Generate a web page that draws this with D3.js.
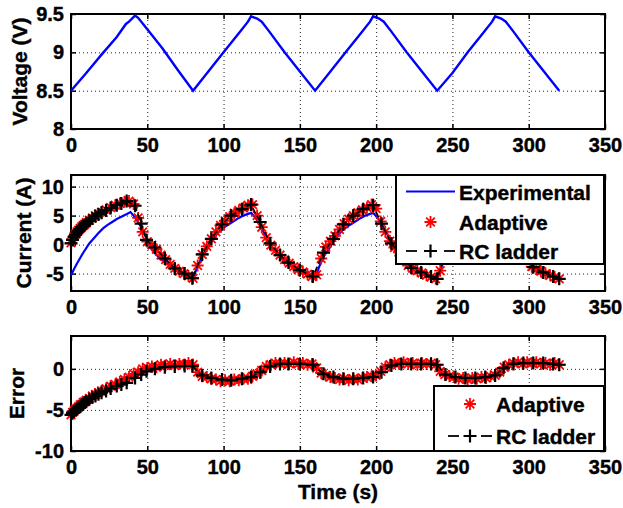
<!DOCTYPE html>
<html lang="en">
<head>
<meta charset="UTF-8">
<script src="https://d3js.org/d3.v7.min.js"></script>
<title>voltage / current / error</title>
<style>
  body { margin: 0; background: #fff; }
  text { font-family: "Liberation Sans", Arial, sans-serif; font-weight: bold; stroke: #000; stroke-width: 0.4px; }
</style>
</head>
<body>
<svg id="chart" width="623" height="508"></svg>
<script>
    // x axis (time, s)
    const xTicks = [0, 50, 100, 150, 200, 250, 300, 350];

    // top panel: applied voltage
    const volTime = [0,10,20,30,36,38,42,44,50,60,70,80,
        90,100,110,116,118,122,125,130,140,150,160,
        170,180,190,196,198,202,205,210,220,230,240,
        250,260,270,276,278,282,285,290,300,310,320];
    const volValue = [8.5,8.73,8.97,9.2,9.37,9.4,9.48,9.45,9.3,9.05,8.77,8.5,
        8.75,9.0,9.25,9.4,9.47,9.44,9.4,9.27,9.0,8.75,8.5,
        8.75,9.0,9.25,9.4,9.47,9.44,9.4,9.27,9.0,8.75,8.5,
        8.73,9.0,9.25,9.4,9.47,9.44,9.4,9.27,9.0,8.75,8.5];
    const volTicks = [8, 8.5, 9, 9.5];

    // middle panel: measured current
    const expTime = [0,2,4,6,8,10,12,15,18,21,24,27,30,33,36,39,41,43,46,49,52,55,58,61,64,67,70,73,76,79,80,
        83,86,89,92,95,98,101,104,107,110,113,116,118,121,124,127,130,133,136,139,142,145,148,151,154,157,160,
        163,166,169,172,175,178,181,184,187,190,193,196,198,201,204,207,210,213,216,219,222,225,228,231,234,237,240,
        243,246,249,252,255,258,261,264,267,270,273,276,278,281,284,287,290,293,296,299,302,305,308,311,314,317,320];
    const expCurrent = [-5.3,-4.2,-3.2,-2.3,-1.4,-0.6,0.2,1.1,2.0,2.8,3.4,3.9,4.4,4.8,5.2,5.6,5.0,4.3,3.0,1.4,-0.4,-1.5,-2.3,-2.9,-3.5,-4.0,-4.5,-4.9,-5.3,-5.7,-5.8,
        -3.7,-2.0,-0.9,0.5,1.6,2.5,3.1,3.6,4.1,4.6,5.0,5.3,5.5,4.6,3.3,1.8,0.2,-0.9,-1.8,-2.6,-3.2,-3.8,-4.3,-4.7,-5.1,-5.4,-5.8,
        -3.6,-1.9,-0.8,0.6,1.6,2.5,3.1,3.6,4.1,4.6,5.0,5.3,5.5,4.6,3.4,1.9,0.3,-0.9,-1.9,-2.7,-3.4,-4.0,-4.5,-4.9,-5.2,-5.5,-5.8,
        -3.7,-2.0,-0.9,0.5,1.6,2.5,3.1,3.6,4.1,4.6,5.0,5.3,5.5,4.6,3.3,1.8,0.2,-1.0,-1.9,-2.7,-3.5,-4.1,-4.6,-5.0,-5.3,-5.6,-5.9];
    const curTicks = [-5, 0, 5, 10];

    // adaptive model samples
    const adaptiveTime = [0,1,2,3,4,5,6,7,8,9,10,12,14,16,18,20,
        23,26,29,32,35,38,41,44,47,50,53,56,59,62,65,68,71,74,77,80,
        83,86,89,92,95,98,101,104,107,110,113,116,119,122,125,128,131,134,137,140,143,146,149,152,155,158,
        161,164,167,170,173,176,179,182,185,188,191,194,197,200,203,206,209,212,215,218,221,224,227,230,233,236,239,
        242,245,248,251,254,257,260,263,266,269,272,275,278,281,284,287,290,293,296,299,302,305,308,311,314,317,320];
    const adaptiveCurrent = [0.3,0.9,1.4,1.8,2.2,2.5,2.8,3.1,3.3,3.5,3.8,4.2,4.6,5.0,5.3,5.6,
        6.0,6.4,6.8,7.1,7.4,7.5,7.0,4.6,2.2,0.5,-0.1,-0.8,-1.8,-2.6,-3.4,-4.1,-4.6,-5.0,-5.4,-5.8,
        -3.6,-1.7,-0.3,1.0,2.2,3.3,4.1,4.8,5.4,5.9,6.3,6.8,6.9,5.0,3.0,1.2,-0.1,-1.0,-1.8,-2.6,-3.2,-3.8,-4.3,-4.7,-5.1,-5.5,
        -5.2,-2.4,-0.4,0.6,1.5,2.6,3.6,4.4,5.0,5.5,6.0,6.4,6.9,6.2,4.0,2.2,0.6,-0.5,-1.3,-2.6,-3.6,-4.1,-4.5,-4.9,-5.3,-5.6,-5.9,
        -4.5,-2.0,-0.2,1.0,2.0,3.0,3.8,4.5,5.1,5.6,6.0,6.5,6.9,6.0,3.8,1.8,0.3,-0.7,-1.6,-2.5,-3.8,-4.2,-4.6,-5.0,-5.3,-5.6,-5.9];
    const adaptiveError = [-5.6,-5.3,-5.1,-4.9,-4.8,-4.6,-4.4,-4.3,-4.1,-4.0,-3.8,-3.6,-3.3,-3.1,-2.9,-2.7,
        -2.4,-2.1,-1.9,-1.6,-1.3,-1.0,-0.6,-0.4,0.0,0.1,0.3,0.2,0.5,0.4,0.6,0.4,0.6,0.5,0.7,0.5,
        -0.4,-0.9,-1.0,-1.2,-1.3,-1.5,-1.4,-1.5,-1.3,-1.4,-1.2,-1.2,-0.9,-0.6,-0.2,0.3,0.5,0.7,0.6,0.7,0.6,0.8,0.6,0.7,0.5,0.6,
        0.1,-0.5,-0.8,-1.0,-1.1,-1.3,-1.2,-1.4,-1.2,-1.3,-1.1,-1.0,-0.9,-0.8,-0.3,0.2,0.5,0.7,0.6,0.8,0.6,0.7,0.5,0.7,0.6,0.7,0.5,
        -0.3,-0.7,-0.9,-1.0,-1.2,-1.1,-1.3,-1.1,-1.2,-1.0,-1.1,-0.9,-0.8,-0.4,0.2,0.5,0.7,0.8,0.6,0.8,0.7,0.8,0.6,0.7,0.5,0.7,0.5];

    // RC ladder model samples
    const rcTime = [0,1,2,3,4,5,6,7,8,9,10,12,14,16,18,20,23,26,30,33,36.5,
        42,46,49.5,55,61.5,68,74.5,79.5,86,92,99,105,112,118,124,130.5,137,142.5,150,158.5,
        165.5,172,178.5,185,191.5,198,203.5,210,216.5,223,229.5,236,240,
        245.5,252,258.5,265,271.5,278,283.5,290,296.5,303,309.5,316,320];
    const rcCurrent = [0.2,0.8,1.3,1.7,2.1,2.4,2.7,3.0,3.2,3.4,3.7,4.1,4.5,4.9,5.2,5.5,5.9,6.3,6.8,7.1,7.5,
        6.7,3.6,0.8,-0.5,-2.4,-4.1,-5.0,-5.8,-1.7,1.0,3.5,5.0,6.1,6.9,3.9,0.2,-1.8,-3.1,-4.4,-5.5,
        -1.4,1.0,3.5,5.0,6.1,6.8,3.6,0.2,-1.9,-4.0,-4.8,-5.5,-5.9,
        -1.5,1.0,3.4,5.0,6.0,6.8,3.7,0.3,-1.8,-3.9,-4.8,-5.5,-5.9];
    const rcError = [-5.6,-5.4,-5.2,-5.0,-4.9,-4.7,-4.6,-4.4,-4.3,-4.1,-4.0,-3.7,-3.5,-3.3,-3.1,-2.9,-2.7,-2.4,-2.1,-1.9,-1.7,
        -1.1,-0.7,-0.3,0.0,0.2,0.3,0.35,0.35,-0.8,-1.1,-1.3,-1.4,-1.2,-1.0,-0.4,0.3,0.6,0.6,0.6,0.5,
        -0.6,-1.0,-1.2,-1.2,-1.1,-1.0,-0.4,0.4,0.6,0.6,0.6,0.6,0.5,
        -0.7,-1.0,-1.1,-1.1,-1.0,-0.8,0.1,0.6,0.7,0.7,0.7,0.6,0.5];
    const errTicks = [-10, -5, 0];

    const svg = d3.select("#chart");
    const x = d3.scaleLinear().domain([0, 350]).range([71, 605]);

    const starPath = "M-6,0H6M0,-6V6M-4.3,-4.3L4.3,4.3M-4.3,4.3L4.3,-4.3";
    const plusPath = "M-6.5,0H6.5M0,-6.5V6.5";

    // one axes box with grid, inner ticks and labels
    function panel(top, bottom, yDomain, yTicks, label, labelX) {
        const y = d3.scaleLinear().domain(yDomain).range([bottom, top]);
        const g = svg.append("g");
        const h = bottom - top;

        g.append("g").attr("transform", `translate(0,${bottom})`)
            .call(d3.axisBottom(x).tickValues(xTicks.slice(1, -1)).tickSize(-h).tickFormat(""))
            .call(a => a.select(".domain").remove())
            .selectAll("line").attr("stroke", "#222").attr("stroke-dasharray", "1,3");
        g.append("g").attr("transform", "translate(71,0)")
            .call(d3.axisLeft(y).tickValues(yTicks.filter(v => v > yDomain[0] && v < yDomain[1])).tickSize(-534).tickFormat(""))
            .call(a => a.select(".domain").remove())
            .selectAll("line").attr("stroke", "#222").attr("stroke-dasharray", "1,3");

        const xb = g.append("g").attr("transform", `translate(0,${bottom})`)
            .call(d3.axisBottom(x).tickValues(xTicks).tickSize(-5).tickPadding(9).tickFormat(d => String(d)));
        g.append("g").attr("transform", `translate(0,${top})`)
            .call(d3.axisTop(x).tickValues(xTicks).tickSize(-5).tickFormat(""));
        const yl = g.append("g").attr("transform", "translate(71,0)")
            .call(d3.axisLeft(y).tickValues(yTicks).tickSize(-5).tickPadding(7).tickFormat(d => String(d)));
        g.append("g").attr("transform", "translate(605,0)")
            .call(d3.axisRight(y).tickValues(yTicks).tickSize(-5).tickFormat(""));

        g.selectAll(".domain").remove();
        g.selectAll(".tick line").filter(function () { return !this.getAttribute("stroke-dasharray"); })
            .attr("stroke", "#000").attr("stroke-width", 1.5);
        [xb, yl].forEach(a => a.attr("font-family", null).attr("font-size", 20)
            .selectAll("text").attr("fill", "#000"));

        g.append("rect").attr("x", 71).attr("y", top).attr("width", 534).attr("height", h)
            .attr("fill", "none").attr("stroke", "#000").attr("stroke-width", 2);

        g.append("text").attr("transform", `translate(${labelX},${(top + bottom) / 2}) rotate(-90)`)
            .attr("text-anchor", "middle").attr("dy", "0.35em").attr("font-size", 21).text(label);

        return { g, y };
    }

    const line = (y) => d3.line().x(d => x(d[0])).y(d => y(d[1]));

    // voltage
    const p1 = panel(14, 129, [8, 9.5], volTicks, "Voltage (V)", 20);
    p1.g.append("path").attr("d", line(p1.y)(d3.zip(volTime, volValue)))
        .attr("fill", "none").attr("stroke", "#0000ff").attr("stroke-width", 2.4);

    // current
    const p2 = panel(175, 291, [-8, 12], curTicks, "Current (A)", 24);
    p2.g.append("path").attr("d", line(p2.y)(d3.zip(expTime, expCurrent)))
        .attr("fill", "none").attr("stroke", "#0000ff").attr("stroke-width", 2.2);
    p2.g.append("g").selectAll("path").data(d3.zip(adaptiveTime, adaptiveCurrent)).join("path")
        .attr("d", starPath).attr("transform", d => `translate(${x(d[0])},${p2.y(d[1])})`)
        .attr("stroke", "#ff0000").attr("stroke-width", 1.8).attr("fill", "none");
    p2.g.append("path").attr("d", line(p2.y)(d3.zip(rcTime, rcCurrent)))
        .attr("fill", "none").attr("stroke", "#000").attr("stroke-width", 1.6).attr("stroke-dasharray", "6,3");
    p2.g.append("g").selectAll("path").data(d3.zip(rcTime, rcCurrent)).join("path")
        .attr("d", plusPath).attr("transform", d => `translate(${x(d[0])},${p2.y(d[1])})`)
        .attr("stroke", "#000").attr("stroke-width", 2.2).attr("fill", "none");

    // error
    const p3 = panel(336, 451, [-10, 4], errTicks, "Error", 17);
    p3.g.append("g").selectAll("path").data(d3.zip(adaptiveTime, adaptiveError)).join("path")
        .attr("d", starPath).attr("transform", d => `translate(${x(d[0])},${p3.y(d[1])})`)
        .attr("stroke", "#ff0000").attr("stroke-width", 1.8).attr("fill", "none");
    p3.g.append("path").attr("d", line(p3.y)(d3.zip(rcTime, rcError)))
        .attr("fill", "none").attr("stroke", "#000").attr("stroke-width", 1.6).attr("stroke-dasharray", "6,3");
    p3.g.append("g").selectAll("path").data(d3.zip(rcTime, rcError)).join("path")
        .attr("d", plusPath).attr("transform", d => `translate(${x(d[0])},${p3.y(d[1])})`)
        .attr("stroke", "#000").attr("stroke-width", 2.2).attr("fill", "none");

    svg.append("text").attr("x", 338).attr("y", 499).attr("text-anchor", "middle")
        .attr("font-size", 21).text("Time (s)");

    // legends
    function legend(box, rows) {
        const lg = svg.append("g");
        lg.append("rect").attr("x", box[0]).attr("y", box[1]).attr("width", box[2]).attr("height", box[3])
            .attr("fill", "#fff").attr("stroke", "#000").attr("stroke-width", 2);
        rows.forEach(r => {
            const cx = (r.x0 + r.x1) / 2;
            if (r.kind === "line") {
                lg.append("line").attr("x1", r.x0).attr("x2", r.x1).attr("y1", r.y).attr("y2", r.y)
                    .attr("stroke", "#0000ff").attr("stroke-width", 2.2);
            } else if (r.kind === "star") {
                lg.append("path").attr("d", starPath).attr("transform", `translate(${cx},${r.y})`)
                    .attr("stroke", "#ff0000").attr("stroke-width", 1.8).attr("fill", "none");
            } else {
                // "-+-" sample: short dash, plus, short dash
                [[r.x0, r.x0 + 11], [r.x1 - 11, r.x1]].forEach(s =>
                    lg.append("line").attr("x1", s[0]).attr("x2", s[1]).attr("y1", r.y).attr("y2", r.y)
                        .attr("stroke", "#000").attr("stroke-width", 1.8));
                lg.append("path").attr("d", plusPath).attr("transform", `translate(${cx},${r.y})`)
                    .attr("stroke", "#000").attr("stroke-width", 2.2).attr("fill", "none");
            }
            lg.append("text").attr("x", r.tx).attr("y", r.base).attr("font-size", 21).text(r.text);
        });
    }

    legend([396, 175, 208, 89], [
        { kind: "line", x0: 406, x1: 455, y: 191.5, tx: 459, base: 199.5, text: "Experimental" },
        { kind: "star", x0: 406, x1: 455, y: 222, tx: 459, base: 229.5, text: "Adaptive" },
        { kind: "rc", x0: 406, x1: 455, y: 251, tx: 459, base: 258.5, text: "RC ladder" }
    ]);
    legend([434, 386, 170, 65], [
        { kind: "star", x0: 448, x1: 492, y: 404, tx: 496, base: 411.5, text: "Adaptive" },
        { kind: "rc", x0: 448, x1: 492, y: 436, tx: 496, base: 443.5, text: "RC ladder" }
    ]);
</script>
</body>
</html>
